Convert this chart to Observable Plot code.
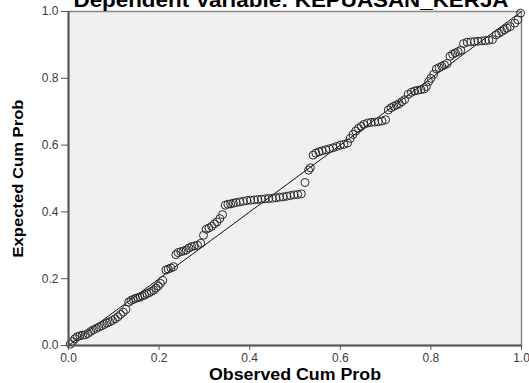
<!DOCTYPE html>
<html>
<head>
<meta charset="utf-8">
<script src="https://cdn.jsdelivr.net/npm/d3@7"></script>
<script src="https://cdn.jsdelivr.net/npm/@observablehq/plot@0.6"></script>
<style>
  html, body { margin: 0; padding: 0; background: #fff; overflow: hidden; }
  svg { font-family: "Liberation Sans", Arial, sans-serif; }
</style>
</head>
<body>
<div id="chart"></div>
<script>
const titleText = "Dependent Variable: KEPUASAN_KERJA";
const xLabel = "Observed Cum Prob";
const yLabel = "Expected Cum Prob";
const tickValues = [0, 0.2, 0.4, 0.6, 0.8, 1.0];
const diagonal = [0, 1];

const observed = [
  0.004,0.009,0.014,0.019,0.025,0.031,0.037,0.043,0.049,0.055,0.061,0.067,0.073,0.079,0.085,0.091,0.097,0.103,0.109,0.115,0.121,0.127,
  0.133,0.138,0.143,0.148,0.153,0.158,0.163,0.168,0.173,0.178,0.183,0.188,0.193,0.198,0.203,0.208,
  0.215,0.220,0.226,0.232,
  0.237,0.242,0.248,0.254,0.260,0.266,0.272,0.278,0.285,0.292,
  0.298,0.304,0.310,0.316,0.322,0.328,0.334,0.340,
  0.346,0.352,0.358,0.364,0.370,0.378,0.386,0.394,0.402,0.410,0.418,0.426,0.434,0.442,0.450,0.458,0.466,0.474,0.482,0.490,0.498,0.506,0.514,
  0.522,0.530,0.534,
  0.540,0.546,0.553,0.560,0.568,0.576,0.584,0.592,0.600,0.608,0.616,
  0.622,0.628,0.634,0.640,0.646,0.652,0.660,0.668,0.676,0.684,0.692,0.700,
  0.706,0.712,0.718,0.724,0.730,0.736,0.742,
  0.750,0.757,0.764,0.771,0.778,0.785,0.790,
  0.795,0.800,0.806,
  0.812,0.818,0.824,0.830,0.836,
  0.842,0.848,0.854,0.860,0.866,
  0.872,0.880,0.888,0.896,0.904,0.912,0.920,0.928,0.936,
  0.944,0.950,0.956,0.962,0.968,0.975,
  0.985,0.992,0.998
];
const expected = [
  0.004,0.012,0.020,0.026,0.029,0.031,0.032,0.036,0.042,0.047,0.051,0.055,0.059,0.063,0.067,0.071,0.075,0.080,0.086,0.093,0.100,0.108,
  0.130,0.135,0.138,0.141,0.143,0.145,0.148,0.151,0.155,0.158,0.162,0.166,0.172,0.178,0.186,0.195,
  0.226,0.229,0.232,0.236,
  0.272,0.278,0.281,0.283,0.286,0.292,0.296,0.298,0.300,0.306,
  0.330,0.348,0.352,0.357,0.364,0.370,0.380,0.392,
  0.420,0.423,0.424,0.426,0.428,0.430,0.432,0.434,0.435,0.436,0.437,0.438,0.439,0.440,0.441,0.442,0.444,0.445,0.447,0.449,0.451,0.452,0.454,
  0.488,0.525,0.532,
  0.570,0.576,0.580,0.583,0.586,0.589,0.592,0.596,0.600,0.602,0.606,
  0.620,0.632,0.642,0.650,0.656,0.662,0.666,0.668,0.669,0.670,0.672,0.676,
  0.705,0.712,0.716,0.720,0.724,0.730,0.736,
  0.752,0.758,0.762,0.764,0.766,0.768,0.775,
  0.790,0.800,0.812,
  0.828,0.832,0.836,0.840,0.844,
  0.866,0.872,0.876,0.880,0.884,
  0.904,0.908,0.909,0.910,0.911,0.912,0.913,0.914,0.916,
  0.930,0.935,0.940,0.945,0.950,0.955,
  0.965,0.975,0.995
];

const points = observed.map((x, i) => ({x, y: expected[i]}));
const diag = diagonal.map(v => ({x: v, y: v}));

const chart = Plot.plot({
  width: 529,
  height: 383,
  marginLeft: 68,
  marginRight: 8,
  marginTop: 11,
  marginBottom: 38,
  style: {background: "#ffffff", fontFamily: "'Liberation Sans', Arial, sans-serif", fontSize: "12px", overflow: "visible"},
  x: {domain: [0, 1]},
  y: {domain: [0, 1]},
  marks: [
    Plot.frame({fill: "#f0f0f0", stroke: "#8a8a8a", strokeWidth: 1.5}),
    Plot.line(diag, {x: "x", y: "y", stroke: "#111", strokeWidth: 1}),
    Plot.dot(points, {x: "x", y: "y", r: 4, stroke: "#2a2a2a", strokeWidth: 1, fill: "none"}),
    Plot.ruleX([0], {stroke: "#555", strokeWidth: 2}),
    Plot.ruleY([0], {stroke: "#555", strokeWidth: 2}),
    Plot.axisX({ticks: tickValues, tickFormat: d3.format(".1f"), tickSize: 5, tickPadding: 3, label: null, stroke: "#555", fill: "#3a3a3a"}),
    Plot.axisY({ticks: tickValues, tickFormat: d3.format(".1f"), tickSize: 7, tickPadding: 3, label: null, stroke: "#555", fill: "#3a3a3a"}),
    Plot.text([xLabel], {text: d => d, frameAnchor: "bottom", lineAnchor: "bottom", dy: 34, fontWeight: "bold", fontSize: 16, fill: "#000"}),
    Plot.text([yLabel], {text: d => d, frameAnchor: "left", textAnchor: "middle", dx: -50, rotate: -90, fontWeight: "bold", fontSize: 15.5, fill: "#000"}),
    Plot.text([titleText], {text: d => d, frameAnchor: "top", lineAnchor: "bottom", textAnchor: "middle", dx: -4, dy: -5, fontWeight: "bold", fontSize: 21, fill: "#000"})
  ]
});
const stretch = {[xLabel]: 172, [yLabel]: 158, [titleText]: 435};
chart.querySelectorAll("text, tspan").forEach(el => {
  const key = (el.textContent || "").trim();
  if (stretch[key] !== undefined) {
    el.setAttribute("textLength", stretch[key]);
    el.setAttribute("lengthAdjust", "spacingAndGlyphs");
  }
});
document.getElementById("chart").appendChild(chart);
</script>
</body>
</html>
